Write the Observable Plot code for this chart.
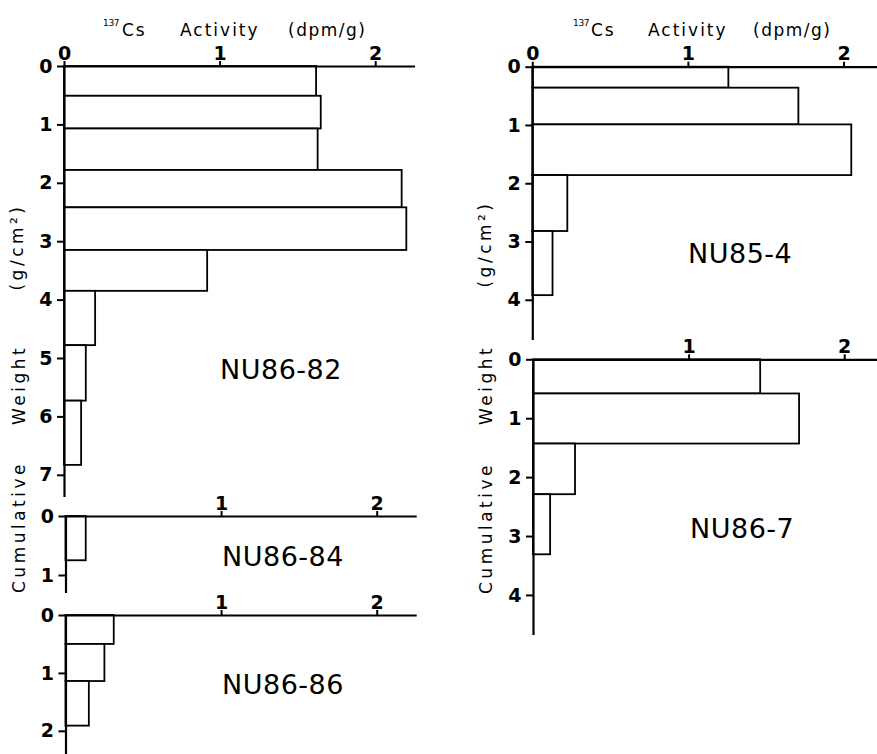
<!DOCTYPE html>
<html><head><meta charset="utf-8">
<script src="https://cdn.jsdelivr.net/npm/d3@7"></script>
<script src="https://cdn.jsdelivr.net/npm/@observablehq/plot@0.6"></script>
<style>
body{margin:0;background:#fff;}
#c{position:relative;width:877px;height:754px;overflow:hidden;font-family:"DejaVu Sans",sans-serif;color:#000;background:#fff;}
.p{position:absolute;}
.t{position:absolute;white-space:nowrap;line-height:1;}
.r{position:absolute;white-space:nowrap;line-height:1;transform:translate(-50%,-50%) rotate(-90deg);font-size:17px;letter-spacing:3.5px;}
</style></head><body><div id="c"></div>
<script>
// Cumulative weight (g/cm2) at top and bottom of each slice, and 137Cs activity (dpm/g)
const nu86_82_top = [0, 0.51, 1.07, 1.78, 2.42, 3.15, 3.85, 4.78, 5.73];
const nu86_82_bottom = [0.51, 1.07, 1.78, 2.42, 3.15, 3.85, 4.78, 5.73, 6.83];
const nu86_82_activity = [1.62, 1.65, 1.63, 2.17, 2.20, 0.92, 0.20, 0.14, 0.11];

const nu86_84_top = [0];
const nu86_84_bottom = [0.75];
const nu86_84_activity = [0.13];

const nu86_86_top = [0, 0.50, 1.14];
const nu86_86_bottom = [0.50, 1.14, 1.91];
const nu86_86_activity = [0.31, 0.25, 0.15];

const nu85_4_top = [0, 0.36, 0.99, 1.86, 2.82];
const nu85_4_bottom = [0.36, 0.99, 1.86, 2.82, 3.92];
const nu85_4_activity = [1.26, 1.71, 2.05, 0.225, 0.13];

const nu86_7_top = [0, 0.58, 1.43, 2.29];
const nu86_7_bottom = [0.58, 1.43, 2.29, 3.31];
const nu86_7_activity = [1.46, 1.71, 0.27, 0.11];

const ticksX_full = [0, 1, 2];
const ticksX_short = [1, 2];

const c = document.getElementById("c");

function panel(top, bottom, act, o) {
  const rows = top.map((t, i) => ({t, b: bottom[i], a: act[i]}));
  const svg = Plot.plot({
    width: o.width, height: o.height,
    marginLeft: o.mL, marginRight: o.mR, marginTop: o.mT, marginBottom: o.mB,
    x: {domain: [0, o.xMax], axis: null},
    y: {domain: [0, o.yMax], reverse: true, axis: null},
    style: {background: "none", overflow: "visible", fontFamily: "DejaVu Sans, sans-serif"},
    marks: [
      Plot.rect(rows, {x1: 0, x2: "a", y1: "t", y2: "b", fill: "white", stroke: "black", strokeWidth: 1.8}),
      Plot.ruleY([0], {stroke: "black", strokeWidth: 2.2}),
      Plot.ruleX([0], {stroke: "black", strokeWidth: 2.2}),
      Plot.axisX({anchor: "top", ticks: o.xTicks, tickSize: 6, tickPadding: 1, fontSize: 19, fontWeight: "bold", tickFormat: d => d, strokeWidth: 2, label: null}),
      Plot.axisY({anchor: "left", ticks: o.yTicks, tickSize: 7, tickPadding: 5, fontSize: 19, fontWeight: "bold", tickFormat: d => d, strokeWidth: 2, label: null})
    ]
  });
  const d = document.createElement("div");
  d.className = "p";
  d.style.left = o.left + "px";
  d.style.top = o.top + "px";
  d.appendChild(svg);
  c.appendChild(d);
}

const K = 155.6;
panel(nu86_82_top, nu86_82_bottom, nu86_82_activity, {left: 0, top: 0, width: 440, height: 500, mL: 64, mR: 25, mT: 66, mB: 3, xMax: 351 / K, yMax: 7.38, xTicks: ticksX_full, yTicks: [0,1,2,3,4,5,6,7]});
panel(nu86_84_top, nu86_84_bottom, nu86_84_activity, {left: 0, top: 480, width: 440, height: 120, mL: 65.5, mR: 23.3, mT: 36, mB: 7, xMax: 351.2 / K, yMax: 1.305, xTicks: ticksX_short, yTicks: [0,1]});
panel(nu86_86_top, nu86_86_bottom, nu86_86_activity, {left: 0, top: 580, width: 440, height: 174, mL: 65.5, mR: 23.3, mT: 35, mB: 0, xMax: 351.2 / K, yMax: 2.40, xTicks: ticksX_short, yTicks: [0,1,2]});
panel(nu85_4_top, nu85_4_bottom, nu85_4_activity, {left: 440, top: 0, width: 437, height: 345, mL: 92.3, mR: 0, mT: 66.7, mB: 5, xMax: 344.7 / K, yMax: 4.69, xTicks: ticksX_full, yTicks: [0,1,2,3,4]});
panel(nu86_7_top, nu86_7_bottom, nu86_7_activity, {left: 440, top: 320, width: 437, height: 320, mL: 93, mR: 0, mT: 39.3, mB: 5, xMax: 344 / K, yMax: 4.68, xTicks: ticksX_short, yTicks: [0,1,2,3,4]});

function txt(s, x, baseline, size, extra) {
  const d = document.createElement("div");
  d.className = "t";
  d.textContent = s;
  d.style.left = x + "px";
  d.style.top = (baseline - 0.846 * size) + "px";
  d.style.fontSize = size + "px";
  if (extra) Object.assign(d.style, extra);
  c.appendChild(d);
}
function rot(s, cx, cy) {
  const d = document.createElement("div");
  d.className = "r";
  d.textContent = s;
  d.style.left = cx + "px";
  d.style.top = cy + "px";
  c.appendChild(d);
}

// Titles
const titleStyle = {letterSpacing: "2px"};
txt("137", 103, 27, 9, {letterSpacing: "-0.3px"});
txt("Cs", 122, 36, 17, titleStyle);
txt("Activity", 180, 36, 17, titleStyle);
txt("(dpm/g)", 288, 36, 17, {letterSpacing: "1.5px"});
txt("137", 573, 27, 9, {letterSpacing: "-0.3px"});
txt("Cs", 591, 36, 17, titleStyle);
txt("Activity", 648, 36, 17, titleStyle);
txt("(dpm/g)", 753, 36, 17, {letterSpacing: "1.5px"});

// Panel labels
const lab = {letterSpacing: "0.5px"};
txt("NU86-82", 220, 379, 27, lab);
txt("NU86-84", 222, 566, 27, lab);
txt("NU86-86", 222, 694, 27, lab);
txt("NU85-4", 688, 263, 27, lab);
txt("NU86-7", 690, 538, 27, lab);

// Vertical axis titles
rot("(g/cm²)", 17, 247);
rot("Weight", 19, 385);
rot("Cumulative", 19, 527);
rot("(g/cm²)", 485, 244);
rot("Weight", 486, 385);
rot("Cumulative", 486, 528);
</script>
</body></html>
